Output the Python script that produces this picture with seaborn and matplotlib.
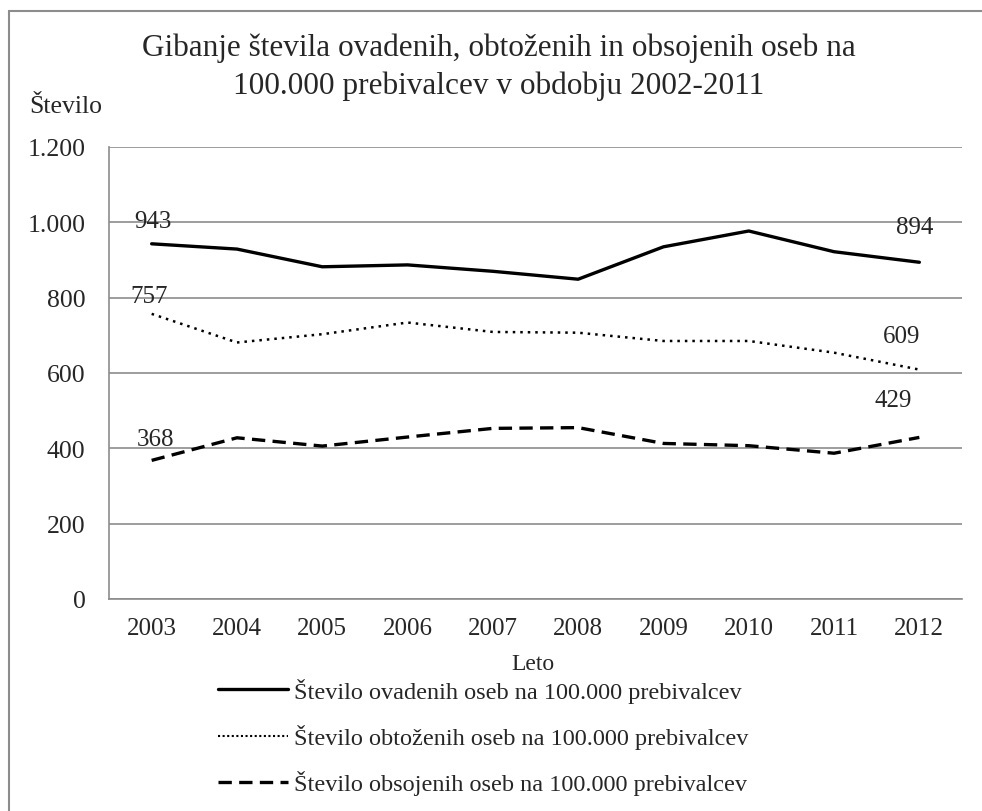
import pandas as pd
import matplotlib
matplotlib.use("Agg")
import matplotlib.pyplot as plt
import seaborn as sns
from matplotlib.patches import Rectangle
from matplotlib.lines import Line2D


years = ["2003", "2004", "2005", "2006", "2007", "2008", "2009", "2010", "2011", "2012"]
ovadeni = [943, 929, 882, 887, 870, 849, 935, 977, 922, 894]
obtozeni = [757, 681, 703, 734, 709, 707, 685, 685, 654, 609]
obsojeni = [368, 428, 406, 430, 453, 455, 413, 407, 387, 429]

labels = ["Število ovadenih oseb na 100.000 prebivalcev",
          "Število obtoženih oseb na 100.000 prebivalcev",
          "Število obsojenih oseb na 100.000 prebivalcev"]


def thousands(v, pos):
    return f"{int(v):,}".replace(",", ".")


def main():
    sns.set_style("white")
    plt.rcParams['font.family'] = ['Liberation Serif', 'DejaVu Serif']

    fig = plt.figure(figsize=(9.82, 8.12), dpi=100)
    ax = fig.add_axes([109 / 982, 1 - 600 / 812, (962 - 109) / 982, (600 - 148) / 812])

    # rámček okoli celega grafa
    fig.patches.append(Rectangle((9 / 982, -0.5), 2, 1.5 - 12 / 812, transform=fig.transFigure,
                                 fill=False, edgecolor="#8c8c8c", lw=1.5))

    x = list(range(len(years)))
    df = pd.DataFrame({"x": x, "ov": ovadeni, "ob": obtozeni, "os": obsojeni})

    sns.lineplot(data=df, x="x", y="ov", ax=ax, color="black", lw=2.4)
    sns.lineplot(data=df, x="x", y="ob", ax=ax, color="black", lw=1.8, linestyle=(0, (1, 2)))
    sns.lineplot(data=df, x="x", y="os", ax=ax, color="black", lw=2.4, linestyle=(0, (4, 2.2)))

    ax.set_xlim(-0.5, len(years) - 0.5)
    ax.set_ylim(0, 1200)
    ax.set_yticks(range(0, 1201, 200))
    ax.yaxis.set_major_formatter(matplotlib.ticker.FuncFormatter(thousands))
    ax.set_xticks(x)
    ax.set_xticklabels(years)
    ax.set_xticks([i - 0.5 for i in range(len(years) + 1)], minor=True)
    ax.tick_params(axis="x", which="major", length=0, pad=13, labelsize=18)
    ax.tick_params(axis="x", which="minor", length=5, color="#8c8c8c", width=1.2, direction="out")
    ax.tick_params(axis="y", length=6, color="#8c8c8c", width=1.2, direction="out", pad=11, labelsize=18.5)
    ax.grid(axis="y", color="#8c8c8c", lw=1.2)
    ax.set_axisbelow(True)
    for s in ["top", "right"]:
        ax.spines[s].set_visible(False)
    for s in ["left", "bottom"]:
        ax.spines[s].set_color("#8c8c8c")
        ax.spines[s].set_linewidth(1.2)
    ax.set_xlabel("")
    ax.set_ylabel("")

    # oznake vrednosti
    opts = dict(textcoords="offset points", ha="center", va="center", fontsize=18)
    ax.annotate(str(ovadeni[0]), (0, ovadeni[0]), xytext=(1, 16.5), **opts)
    ax.annotate(str(obtozeni[0]), (0, obtozeni[0]), xytext=(-1.5, 13), **opts)
    ax.annotate(str(obsojeni[0]), (0, obsojeni[0]), xytext=(3, 15.5), **opts)
    ax.annotate(str(ovadeni[-1]), (9, ovadeni[-1]), xytext=(-3, 25.5), **opts)
    ax.annotate(str(obtozeni[-1]), (9, obtozeni[-1]), xytext=(-13, 24), **opts)
    ax.annotate(str(obsojeni[-1]), (9, obsojeni[-1]), xytext=(-19, 27), **opts)

    fig.text(499 / 982, 1 - 67 / 812, "Gibanje števila ovadenih, obtoženih in obsojenih oseb na\n100.000 prebivalcev v obdobju 2002-2011",
             ha="center", va="center", fontsize=22.5, linespacing=1.38)
    fig.text(29 / 982, 1 - 107 / 812, "Število", ha="left", va="center", fontsize=18.5)
    fig.text(533 / 982, 1 - 665 / 812, "Leto", ha="center", va="center", fontsize=17)

    handles = [Line2D([], [], color="black", lw=2.4),
               Line2D([], [], color="black", lw=1.5, linestyle=(0, (1, 1.2))),
               Line2D([], [], color="black", lw=2.4, linestyle=(0, (4, 2.2)))]
    fig.legend(handles, labels, loc="upper left", bbox_to_anchor=(208 / 982, 1 - 669 / 812), frameon=False,
               fontsize=17.5, handlelength=2.88, handletextpad=0.25, labelspacing=0.88, borderaxespad=0)

    fig.savefig("out.png", dpi=100)
    plt.close()


if __name__ == "__main__":
    main()
